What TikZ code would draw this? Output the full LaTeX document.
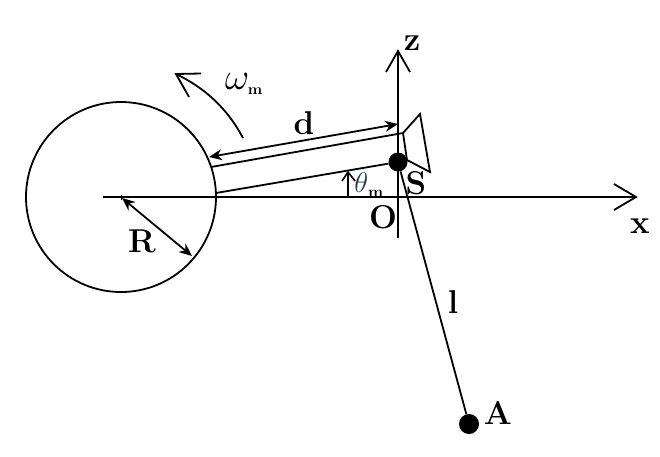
\documentclass[tikz,border=0pt]{standalone}
\usetikzlibrary{arrows.meta}
\definecolor{thetablue}{HTML}{2A3A5A}
\tikzset{
  ln/.style={draw=black,line width=1.8pt},
  lab/.style={inner sep=0pt,font=\fontsize{33}{33}\selectfont\bfseries},
  dotn/.style={circle,fill=black,inner sep=0pt,minimum size=19pt},
  dbl/.style={ln,{Stealth[length=13pt,width=11pt]}-{Stealth[length=13pt,width=11pt]}},
  openhead/.style={ln,line join=miter}
}
\newcommand{\subm}[1]{\mbox{\fontsize{#1}{#1}\selectfont\bfseries m}}
\begin{document}
\begin{tikzpicture}[x=1pt,y=-1pt]
\useasboundingbox (0,0) rectangle (660,456);
% drum
\node[circle,draw=black,line width=1.8pt,minimum size=190pt,inner sep=0pt] (drum) at (121,197) {};
% axes
\coordinate (xs) at (103,197); \coordinate (xe) at (636,197);
\coordinate (zs) at (398,238); \coordinate (ze) at (398,51);
\draw[ln] (xs) -- (xe);
\draw[ln] (zs) -- (ze);
\draw[openhead] (614,184) -- (xe) -- (614,210);
\draw[openhead] (386,72) -- (ze) -- (410,72);
\draw[line width=1pt] (121,194.5) -- (121,199.5);
% tube
\coordinate (t1) at (211,167); \coordinate (t2) at (403,133);
\coordinate (b1) at (216,193);
\node[dotn] (S) at (398,162) {};
\draw[ln] (t1) -- (t2);
\draw[ln] (b1) -- (S);
% cone
\draw[ln,line join=miter] (t2) -- (420,114) -- (430,172) -- (407,160) -- cycle;
% rope
\node[dotn,minimum size=20pt] (A) at (469,424) {};
\draw[ln] (S) -- (A);
% dimensions
\coordinate (d1) at (209,157); \coordinate (d2) at (398,124);
\draw[dbl] (d1) -- (d2);
\coordinate (r1) at (122,198); \coordinate (r2) at (192,256);
\draw[dbl] (r1) -- (r2);
% rotation
\coordinate (w1) at (243,138); \coordinate (w2) at (176,74);
\draw[ln] (w1) .. controls (227,108) and (205,88) .. (w2);
\draw[openhead] (201,73.5) -- (w2) -- (189,97);
% theta arrow
\coordinate (th1) at (348,197); \coordinate (th2) at (348,172);
\draw[line width=1.6pt] (th1) -- (th2);
\draw[line width=1.6pt] (342,181) -- (th2) -- (355,181);
% labels
\node[lab] (lz) at (412,43) {z};
\node[lab] (lx) at (640,226) {x};
\node[lab] (lO) at (383,217) {O};
\node[lab] (lS) at (416,183) {S};
\node[lab] (ll) at (453,302) {l};
\node[lab] (lA) at (498,413) {A};
\node[lab] (lR) at (142,241) {R};
\node[lab] (ld) at (304,123) {d};
\node[inner sep=0pt,scale=1.5] (lw) at (244,84) {\fontsize{24}{24}\selectfont$\omega_{\subm{10}}$};
\node[inner sep=0pt,scale=1.15] (lt) at (369,185) {\fontsize{24}{24}\selectfont$\textcolor{thetablue}{\theta}_{\subm{14}}$};
\end{tikzpicture}
\end{document}
